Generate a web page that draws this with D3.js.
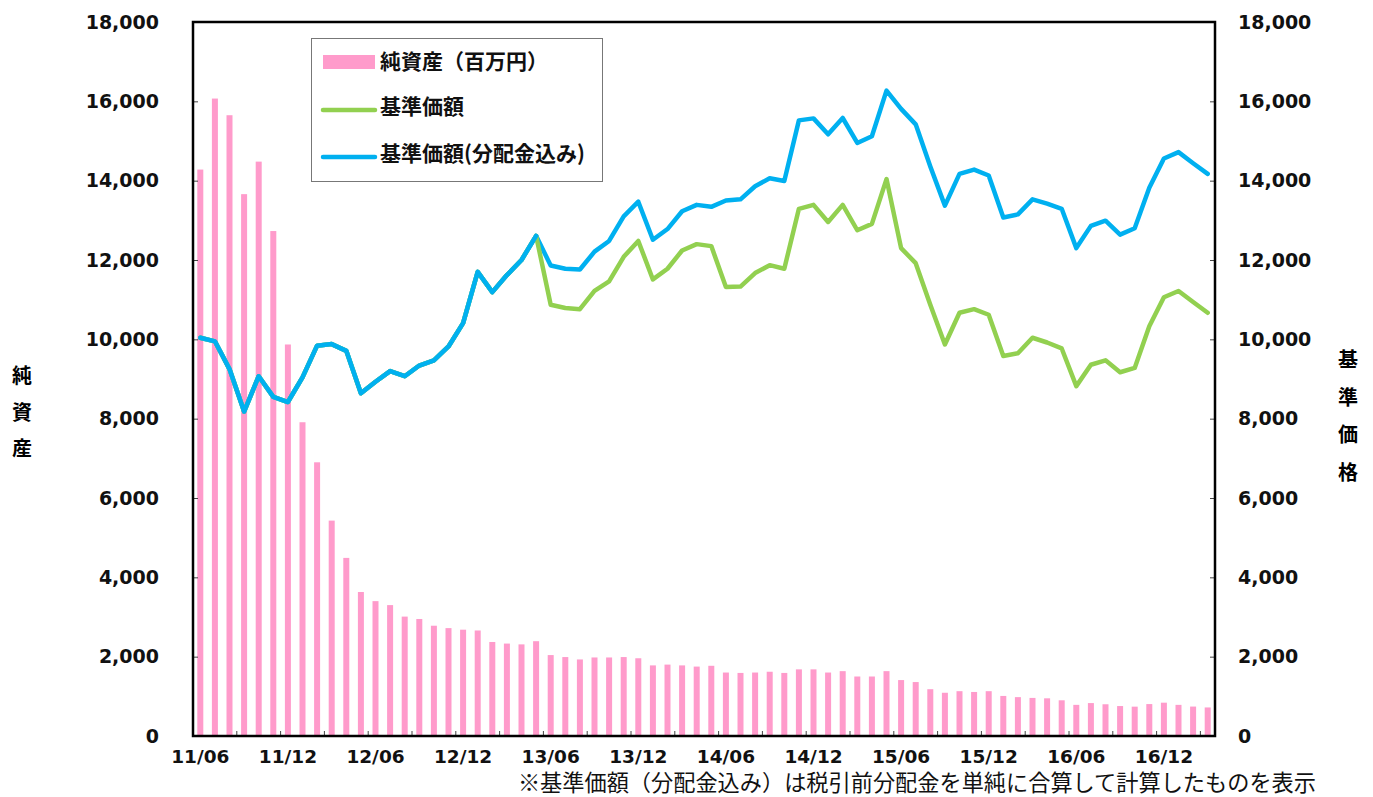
<!DOCTYPE html>
<html>
<head>
<meta charset="utf-8">
<script src="https://cdn.jsdelivr.net/npm/d3@7"></script>
<style>
  body { margin: 0; background: #fff; }
  svg { display: block; }
</style>
</head>
<body>
<div id="chart"></div>
<script>
// monthly categories 11/06 .. 17/03
var months = [
  '11/06','11/07','11/08','11/09','11/10','11/11','11/12',
  '12/01','12/02','12/03','12/04','12/05','12/06','12/07','12/08','12/09','12/10','12/11','12/12',
  '13/01','13/02','13/03','13/04','13/05','13/06','13/07','13/08','13/09','13/10','13/11','13/12',
  '14/01','14/02','14/03','14/04','14/05','14/06','14/07','14/08','14/09','14/10','14/11','14/12',
  '15/01','15/02','15/03','15/04','15/05','15/06','15/07','15/08','15/09','15/10','15/11','15/12',
  '16/01','16/02','16/03','16/04','16/05','16/06','16/07','16/08','16/09','16/10','16/11','16/12',
  '17/01','17/02','17/03'
];
var xLabels = ['11/06','11/12','12/06','12/12','13/06','13/12','14/06','14/12','15/06','15/12','16/06','16/12'];
var yTicks = [0,2000,4000,6000,8000,10000,12000,14000,16000,18000];

// 純資産（百万円）
var netAssets = [
  14280,16070,15650,13660,14480,12730,9870,7910,6900,5430,
  4490,3630,3400,3300,3010,2950,2780,2720,2680,2660,
  2370,2330,2310,2390,2040,1990,1930,1980,1980,1990,
  1960,1780,1800,1780,1750,1770,1600,1590,1600,1620,
  1590,1680,1680,1600,1635,1500,1500,1635,1410,1360,
  1180,1090,1130,1110,1130,1010,980,960,950,900,
  785,830,800,755,740,805,840,785,742,720
];
// 基準価額
var nav = [
  10040,9950,9250,8180,9070,8550,8420,9040,9840,9880,
  9710,8640,8930,9200,9070,9340,9470,9820,10410,11700,
  11190,11620,12000,12610,10870,10790,10760,11220,11460,12080,
  12480,11510,11780,12240,12400,12350,11320,11330,11670,11870,
  11780,13290,13390,12960,13390,12750,12910,14040,12300,11920,
  10870,9870,10670,10760,10620,9580,9650,10040,9920,9770,
  8820,9360,9470,9170,9280,10330,11060,11220,10940,10670
];
// 基準価額(分配金込み)
var navDiv = [
  10040,9950,9250,8180,9070,8550,8420,9040,9840,9880,
  9710,8640,8930,9200,9070,9340,9470,9820,10410,11700,
  11190,11620,12000,12610,11860,11780,11760,12210,12480,13100,
  13470,12510,12780,13230,13390,13340,13500,13530,13860,14060,
  13990,15520,15570,15170,15580,14950,15120,16270,15810,15420,
  14360,13370,14170,14280,14130,13070,13150,13530,13420,13290,
  12300,12860,12990,12640,12800,13820,14560,14720,14440,14170
];

var W = 1373, H = 797;
var pL = 193, pR = 1215, pT = 22, pB = 736;
var numFont = '"DejaVu Sans", Verdana, sans-serif';
var jpFont = '"Noto Sans CJK JP", "Noto Sans", sans-serif';

var svg = d3.select('#chart').append('svg')
  .attr('width', W)
  .attr('height', H);

var x = d3.scaleBand().domain(months).range([pL, pR]).padding(0);
var yL = d3.scaleLinear().domain([0, 18000]).range([pB, pT]);
var yR = d3.scaleLinear().domain([0, 18000]).range([pB, pT]);

// bars
svg.append('g').selectAll('rect')
  .data(netAssets)
  .enter().append('rect')
  .attr('x', function(d, i){ return x(months[i]) + x.bandwidth()/2 - 3; })
  .attr('width', 6)
  .attr('y', function(d){ return yL(d); })
  .attr('height', function(d){ return yL(0) - yL(d); })
  .style('fill', '#FF9BCB');

// lines
var line = d3.line()
  .x(function(d, i){ return x(months[i]) + x.bandwidth()/2; })
  .y(function(d){ return yR(d); });

function drawLine(data, color){
  svg.append('path')
    .datum(data)
    .attr('d', line)
    .style('fill', 'none')
    .style('stroke', color)
    .style('stroke-width', 4.5)
    .style('stroke-linejoin', 'round')
    .style('stroke-linecap', 'round');
}
drawLine(navDiv, '#00B0F0');
drawLine(nav, '#92D050');
// common part (before 13/06) shows blue on top
drawLine(navDiv.slice(0, 24), '#00B0F0');

// axes
var fmt = d3.format(',');
var axL = svg.append('g')
  .attr('transform', 'translate(' + pL + ',0)')
  .call(d3.axisLeft(yL).tickValues(yTicks).tickFormat(fmt).tickSize(-5).tickPadding(34));
var axR = svg.append('g')
  .attr('transform', 'translate(' + pR + ',0)')
  .call(d3.axisRight(yR).tickValues(yTicks).tickFormat(fmt).tickSize(-5).tickPadding(23));
[axL, axR].forEach(function(a){
  a.select('.domain').remove();
  a.selectAll('line').style('stroke', '#444');
  a.selectAll('text')
    .style('font-family', numFont)
    .style('font-weight', 'bold')
    .style('font-size', '19px')
    .style('fill', '#111');
});

var axB = svg.append('g')
  .attr('transform', 'translate(0,' + pB + ')')
  .call(d3.axisBottom(x).tickValues(xLabels).tickSize(0).tickPadding(14));
axB.select('.domain').remove();
axB.selectAll('text')
  .style('font-family', numFont)
  .style('font-weight', 'bold')
  .style('font-size', '18.5px')
  .style('fill', '#111');

// inward ticks every 3 months on x axis
svg.append('g').selectAll('line')
  .data(months.filter(function(m, i){ return i > 0 && i % 3 === 0; }))
  .enter().append('line')
  .attr('x1', function(d){ return x(d); })
  .attr('x2', function(d){ return x(d); })
  .attr('y1', pB)
  .attr('y2', pB - 5)
  .style('stroke', '#444');

// frame
svg.append('rect')
  .attr('x', pL)
  .attr('y', pT)
  .attr('width', pR - pL)
  .attr('height', pB - pT)
  .style('fill', 'none')
  .style('stroke', '#000')
  .style('stroke-width', 2.5);

// axis titles, vertical stacked
var leftTitle = ['純','資','産'];
svg.append('g').selectAll('text')
  .data(leftTitle).enter().append('text')
  .text(function(d){ return d; })
  .attr('x', 22)
  .attr('y', function(d, i){ return 383 + i * 36.5; })
  .attr('text-anchor', 'middle')
  .style('font-family', jpFont)
  .style('font-weight', 'bold')
  .style('font-size', '20px');
var rightTitle = ['基','準','価','格'];
svg.append('g').selectAll('text')
  .data(rightTitle).enter().append('text')
  .text(function(d){ return d; })
  .attr('x', 1348)
  .attr('y', function(d, i){ return 367 + i * 37.5; })
  .attr('text-anchor', 'middle')
  .style('font-family', jpFont)
  .style('font-weight', 'bold')
  .style('font-size', '20px');

// legend
var lg = svg.append('g');
lg.append('rect')
  .attr('x', 311.5).attr('y', 38.5)
  .attr('width', 291).attr('height', 143)
  .style('fill', '#fff')
  .style('stroke', '#777')
  .style('stroke-width', 1);
lg.append('rect')
  .attr('x', 323).attr('y', 55)
  .attr('width', 52).attr('height', 14)
  .style('fill', '#FF9BCB');
lg.append('line')
  .attr('x1', 323).attr('x2', 375).attr('y1', 110).attr('y2', 110)
  .style('stroke', '#92D050').style('stroke-width', 4.5).style('stroke-linecap', 'round');
lg.append('line')
  .attr('x1', 323).attr('x2', 375).attr('y1', 157).attr('y2', 157)
  .style('stroke', '#00B0F0').style('stroke-width', 4.5).style('stroke-linecap', 'round');
var legendText = ['純資産（百万円）', '基準価額', '基準価額(分配金込み)'];
lg.selectAll('text.lt')
  .data(legendText).enter().append('text')
  .attr('class', 'lt')
  .text(function(d){ return d; })
  .attr('x', 380)
  .attr('y', function(d, i){ return [69, 114, 161][i]; })
  .style('font-family', jpFont)
  .style('font-weight', 'bold')
  .style('font-size', '21px')
  .style('fill', '#111');

// footnote
svg.append('text')
  .text('※基準価額（分配金込み）は税引前分配金を単純に合算して計算したものを表示')
  .attr('x', 1316)
  .attr('y', 791)
  .attr('text-anchor', 'end')
  .style('font-family', jpFont)
  .style('font-size', '22.2px')
  .style('fill', '#111');
</script>
</body>
</html>
